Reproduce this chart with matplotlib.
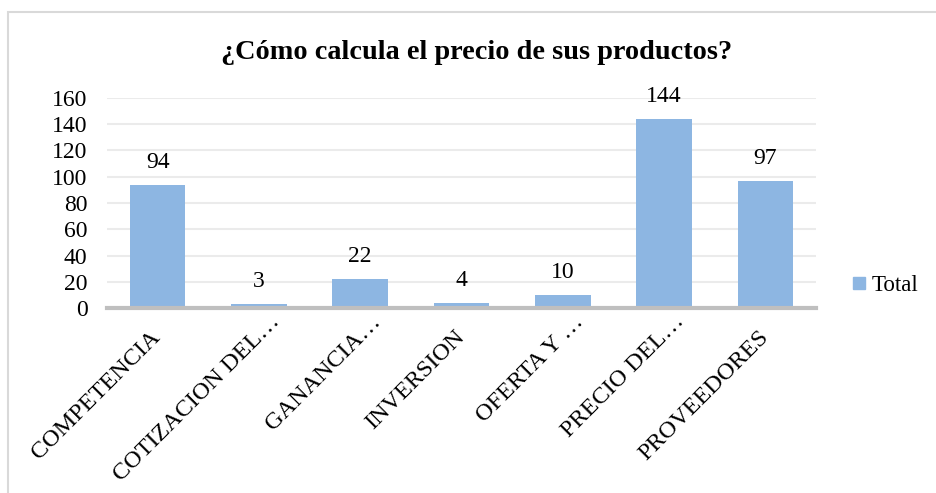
import matplotlib
matplotlib.use("Agg")
import matplotlib.pyplot as plt
from matplotlib.patches import Rectangle
from matplotlib.lines import Line2D
from matplotlib.transforms import ScaledTranslation

categories = ["COMPETENCIA", "COTIZACION DEL…", "GANANCIA…", "INVERSION",
              "OFERTA Y …", "PRECIO DEL…", "PROVEEDORES"]
totals = [94, 3, 22, 4, 10, 144, 97]
y_ticks = [0, 20, 40, 60, 80, 100, 120, 140, 160]

title = "¿Cómo calcula el precio de sus productos?"
series_name = "Total"

bar_color = "#8db6e2"
serif = ["Liberation Serif", "DejaVu Serif"]

W, H = 936, 493
DPI = 100
fig = plt.figure(figsize=(W / DPI, H / DPI), dpi=DPI)
fig.patch.set_facecolor("white")

# chart frame (left and top edges visible)
fig.patches.append(Rectangle((8 / W, -0.1), 1.2, 1.1 - 12 / H,
                             transform=fig.transFigure, fill=False,
                             edgecolor="#d9d9d9", linewidth=1.5))

ax = fig.add_axes([107 / W, 1 - 308 / H, (816 - 107) / W, (308 - 98) / H])
x = list(range(len(categories)))
ax.bar(x, totals, width=0.55, color=bar_color, zorder=2,
       label=series_name)

ax.set_xlim(-0.5, len(categories) - 0.5)
ax.set_ylim(0, 160)
ax.set_yticks(y_ticks)
ax.set_yticklabels([str(v) for v in y_ticks], fontfamily=serif, fontsize=17)
ax.tick_params(axis="y", length=0, pad=14)
ax.set_xticks(x)
ax.set_xticklabels([])
ax.tick_params(axis="x", length=0)

# rotated category labels; truncated ones sit a little higher
px = 1 / DPI
base = ax.get_xaxis_transform()
for xi, name in zip(x, categories):
    if name.endswith("…"):
        dx, dy = 10 * px, -3 * px
    else:
        dx, dy = -7.5 * px, -18.5 * px
    ax.text(xi, 0, name, rotation=45, ha="right", va="top",
            rotation_mode="anchor", fontfamily=serif, fontsize=17.5,
            transform=base + ScaledTranslation(dx, dy, fig.dpi_scale_trans),
            clip_on=False)

ax.grid(axis="y", color="#ebebeb", linewidth=1.5, zorder=0)
for s in ["top", "right", "left"]:
    ax.spines[s].set_visible(False)
ax.spines["bottom"].set_color("#bfbfbf")
ax.spines["bottom"].set_linewidth(3)
ax.spines["bottom"].set_zorder(3)

for xi, v in zip(x, totals):
    ax.annotate(str(v), (xi, v), xytext=(0, 12.2), textcoords="offset points",
                ha="center", va="baseline", fontfamily=serif, fontsize=17)

fig.text(477 / W, 1 - 59 / H, title, ha="center", va="baseline",
         fontfamily=serif, fontsize=20.3, fontweight="bold")

handle = Line2D([], [], marker="s", linestyle="none", markersize=8.6,
                markerfacecolor=bar_color, markeredgecolor=bar_color)
fig.legend([handle], [series_name], loc="center left",
           bbox_to_anchor=(849 / W, 1 - 285 / H), frameon=False,
           prop={"family": serif, "size": 16.5}, handletextpad=0.1,
           handlelength=0.9, borderaxespad=0, borderpad=0)

fig.savefig("out.png", dpi=DPI, facecolor="white")
